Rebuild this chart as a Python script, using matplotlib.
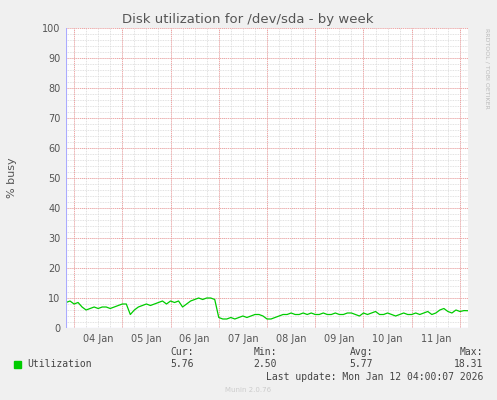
import matplotlib
matplotlib.use("Agg")
import matplotlib.pyplot as plt
import numpy as np

hours = list(range(0, 201, 2))
util = [8.5,9,8,8.5,7,6,6.5,7,6.5,7,7,6.5,
        7,7.5,8,8,4.5,6,7,7.5,8,7.5,8,8.5,
        9,8,9,8.5,9,7,8,9,9.5,10,9.5,10,
        10,9.5,3.5,3,3,3.5,3,3.5,4,3.5,4,4.5,
        4.5,4,3,3,3.5,4,4.5,4.5,5,4.5,4.5,5,
        4.5,5,4.5,4.5,5,4.5,4.5,5,4.5,4.5,5,5,
        4.5,4,5,4.5,5,5.5,4.5,4.5,5,4.5,4,4.5,
        5,4.5,4.5,5,4.5,5,5.5,4.5,5,6,6.5,5.5,
        5,6,5.5,5.8,5.76]
day_labels = ["04 Jan","05 Jan","06 Jan","07 Jan","08 Jan","09 Jan","10 Jan","11 Jan"]
stats = [("Cur:","5.76"),("Min:","2.50"),("Avg:","5.77"),("Max:","18.31")]

W, H = 497, 400
fig = plt.figure(figsize=(W/100, H/100), dpi=100, facecolor="#F0F0F0")
ax = fig.add_axes([66/W, 72/H, 402/W, 300/H], facecolor="white")
start_off = 4  # hours from start to first midnight
ax.set_xlim(0, 200); ax.set_ylim(0, 100)
# grid
for h in np.arange(start_off, 200, 6):
    ax.axvline(h, color="#D8D8D8", lw=0.6, ls=(0,(1,1)), zorder=0)
for y in range(0, 101, 2):
    ax.axhline(y, color="#D8D8D8", lw=0.6, ls=(0,(1,1)), zorder=0)
for h in np.arange(start_off, 200, 24):
    ax.axvline(h, color="#F4A0A0", lw=0.7, ls=(0,(1,1)), zorder=1)
for y in range(10, 101, 10):
    ax.axhline(y, color="#F4A0A0", lw=0.7, ls=(0,(1,1)), zorder=1)
ax.plot(hours, util, color="#00CC00", lw=0.9, zorder=3)
ax.set_xticks([start_off + 12 + 24*i for i in range(len(day_labels))])
ax.set_xticklabels(day_labels)
ax.set_yticks(range(0, 101, 10))
ax.tick_params(length=0, labelsize=7, colors="#555555", pad=4)
for s in ax.spines.values():
    s.set_visible(False)
ax.axhline(0, color="#AAAAFF", lw=0.8, zorder=4)
ax.axvline(0, color="#AAAAFF", lw=0.8, zorder=4)
fig.text(248/W, 1-19/H, "Disk utilization for /dev/sda - by week", ha="center", va="center", fontsize=9.5, color="#555555")
fig.text(12/W, 1-178/H, "% busy", rotation=90, ha="center", va="center", fontsize=8, color="#555555")
fig.text(487/W, 1-68/H, "RRDTOOL / TOBI OETIKER", rotation=270, ha="center", va="center", fontsize=4.5, color="#BBBBBB")
mono = "DejaVu Sans Mono"
fig.patches.append(plt.Rectangle((14/W, 1-368/H), 7/W, 7/H, transform=fig.transFigure, color="#00CC00"))
fig.text(27/W, 1-364/H, "Utilization", ha="left", va="center", fontsize=7, color="#444444", family=mono)
for (lab, val), x in zip(stats, [194, 277, 373, 483]):
    fig.text(x/W, 1-352/H, lab, ha="right", va="center", fontsize=7, color="#444444", family=mono)
    fig.text(x/W, 1-364/H, val, ha="right", va="center", fontsize=7, color="#444444", family=mono)
fig.text(483/W, 1-377/H, "Last update: Mon Jan 12 04:00:07 2026", ha="right", va="center", fontsize=7, color="#444444", family=mono)
fig.text(248/W, 1-390/H, "Munin 2.0.76", ha="center", va="center", fontsize=5, color="#CCCCCC")
fig.savefig("out.png", dpi=100, facecolor=fig.get_facecolor())
